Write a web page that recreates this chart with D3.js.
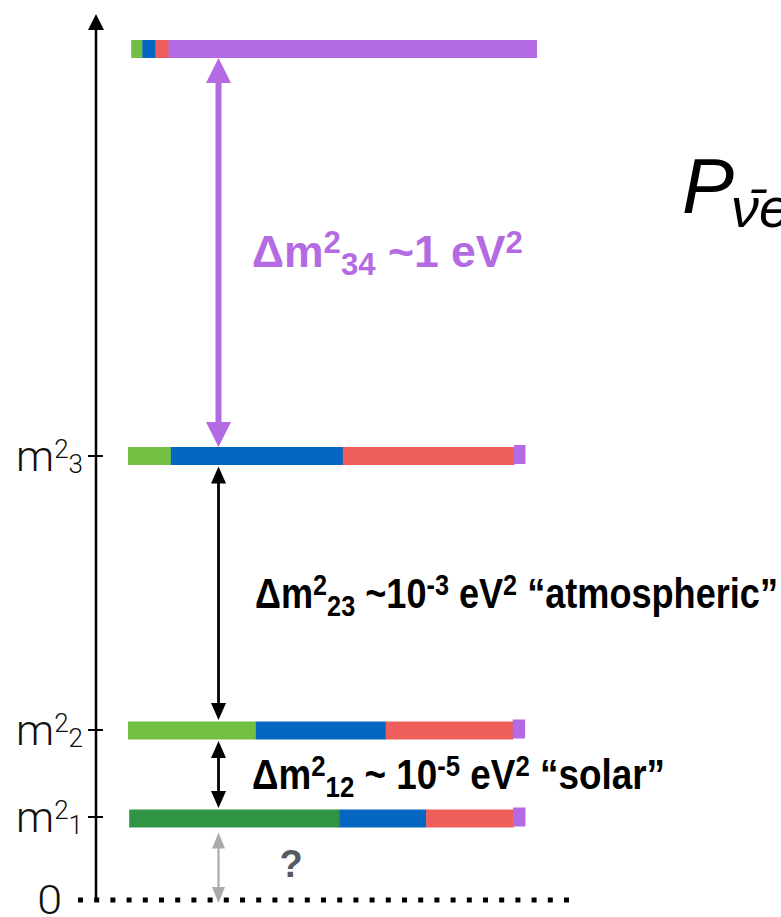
<!DOCTYPE html>
<html>
<head>
<meta charset="utf-8">
<script src="https://cdn.jsdelivr.net/npm/d3@7"></script>
<style>
  html, body { margin: 0; padding: 0; background: #fff; }
  svg { display: block; }
</style>
</head>
<body>
<svg id="chart"></svg>
<script>
// schematic mass-squared positions (arbitrary units, 0 = bottom line)
const levelKeys = ["4", "3", "2", "1"]
const levelValues = [851, 444, 169.5, 81.5]
const tickKeys = ["3", "2", "1", "0"]
const tickValues = [444, 170, 83, 0]

// flavour content of each mass state: e, mu, tau, sterile
const flavors = ["e", "mu", "tau", "s"]
const barStarts = [0.008, 0, 0, 0.003]
const comp4 = [0.028, 0.033, 0.033, 0.927]
const comp3 = [0.108, 0.433, 0.431, 0.028]
const comp2 = [0.322, 0.327, 0.320, 0.030]
const comp1 = [0.529, 0.219, 0.219, 0.030]
const compositions = [comp4, comp3, comp2, comp1]

// splittings: [upper level, lower level, kind]
const splitFrom = ["4", "3", "2", "1"]
const splitTo = ["3", "2", "1", "0"]
const splitKind = ["sterile", "atm", "solar", "unknown"]

const labelSterile = [{t: "Δm"}, {t: "2", sup: true}, {t: "34", sub: true}, {t: " ~1 eV"}, {t: "2", sup: true}]
const labelAtm = [{t: "Δm"}, {t: "2", sup: true}, {t: "23", sub: true}, {t: " ~10"}, {t: "-3", sup: true}, {t: " eV"}, {t: "2", sup: true}, {t: " “atmospheric”"}]
const labelSolar = [{t: "Δm"}, {t: "2", sup: true}, {t: "12", sub: true}, {t: " ~ 10"}, {t: "-5", sup: true}, {t: " eV"}, {t: "2", sup: true}, {t: " “solar”"}]

const width = 781, height = 917
const barH = 18

const colors = {e: "#72bf44", mu: "#0567c2", tau: "#ee5e5a", s: "#b36ae2"}
const darkGreen = "#2f9444"

const svg = d3.select('#chart').attr('width', width).attr('height', height)

const yScale = d3.scaleLinear().domain([0, 886]).range([900, 14])
const xScale = d3.scaleLinear().domain([0, 1]).range([128, 525])
const levelY = k => k === "0" ? yScale(0) : yScale(levelValues[levelKeys.indexOf(k)])

// axis
const axisX = 96
svg.append('line')
  .attr('x1', axisX).attr('x2', axisX)
  .attr('y1', yScale(0)).attr('y2', yScale(886) + 14)
  .attr('stroke', '#000').attr('stroke-width', 2.5)
svg.append('path')
  .attr('d', `M${axisX},${yScale(886)} L${axisX - 8},${yScale(886) + 16} L${axisX + 8},${yScale(886) + 16} Z`)
  .attr('fill', '#000')

// zero line, dotted
svg.append('line')
  .attr('x1', 78).attr('x2', 576)
  .attr('y1', yScale(0)).attr('y2', yScale(0))
  .attr('stroke', '#000').attr('stroke-width', 5)
  .attr('stroke-dasharray', '5 11.2')

// ticks + labels
const ticks = svg.selectAll('g.tick').data(tickKeys).enter().append('g')
  .attr('class', 'tick')
  .attr('transform', (d, i) => `translate(0,${yScale(tickValues[i])})`)

ticks.filter(d => d !== "0").append('line')
  .attr('x1', axisX - 8).attr('x2', axisX + 7)
  .attr('stroke', '#000').attr('stroke-width', 2)

ticks.append('text')
  .attr('x', d => d === "0" ? 0 : 83)
  .attr('y', d => d === "0" ? 0 : 15)
  .attr('transform', d => d === "0" ? 'translate(62,14) scale(1.12,1)' : null)
  .attr('text-anchor', 'end')
  .style('font-family', "Roboto, 'Liberation Sans', Arial, sans-serif")
  .style('font-weight', 300)
  .style('font-size', d => d === "0" ? '40px' : '43px')
  .style('fill', '#111')
  .each(function (d) {
    const t = d3.select(this)
    if (d === "0") { t.text("0"); return }
    t.append('tspan').text('m')
    t.append('tspan').attr('font-size', 26).attr('dy', -13).text('2')
    t.append('tspan').attr('font-size', 26).attr('dy', 15).text(d)
  })

// bars
const rows = svg.selectAll('g.level').data(levelKeys).enter().append('g')
  .attr('class', 'level')
  .attr('transform', d => `translate(0,${levelY(d) - barH / 2})`)

rows.each(function (k, ri) {
  let acc = barStarts[ri]
  const segs = compositions[ri].map((v, fi) => {
    const s = {flavor: flavors[fi], x0: acc, x1: acc + v}
    acc += v
    return s
  })
  d3.select(this).selectAll('rect').data(segs).enter().append('rect')
    .attr('x', s => xScale(s.x0))
    .attr('width', s => xScale(s.x1) - xScale(s.x0) + 0.5)
    .attr('y', s => (s.flavor === "s" && k !== "4") ? -2 : 0)
    .attr('height', s => (s.flavor === "s" && k !== "4") ? barH + 1 : barH)
    .attr('fill', s => (s.flavor === "e" && k === "1") ? darkGreen : colors[s.flavor])
})

// splitting arrows
const arrowStyle = {
  sterile: {color: "#b36ae2", w: 6, hw: 12.5, hl: 25, gap: 0},
  atm: {color: "#000", w: 2.8, hw: 7.5, hl: 17, gap: 1.5},
  solar: {color: "#000", w: 2.8, hw: 7.5, hl: 17, gap: 1.5},
  unknown: {color: "#a9acac", w: 2.2, hw: 6.5, hl: 16, gap: 5}
}
const arrowX = xScale(0.228)

splitKind.forEach((kind, i) => {
  const st = arrowStyle[kind]
  const y1 = levelY(splitFrom[i]) + barH / 2 + st.gap
  let y2 = levelY(splitTo[i]) - barH / 2 - st.gap
  if (splitTo[i] === "0") y2 = yScale(0) + 3
  const g = svg.append('g').attr('class', 'arrow')
  g.append('line')
    .attr('x1', arrowX).attr('x2', arrowX)
    .attr('y1', y1 + st.hl - 1).attr('y2', y2 - st.hl + 1)
    .attr('stroke', st.color).attr('stroke-width', st.w)
  g.append('path')
    .attr('d', `M${arrowX},${y1} L${arrowX - st.hw},${y1 + st.hl} L${arrowX + st.hw},${y1 + st.hl} Z`)
    .attr('fill', st.color)
  g.append('path')
    .attr('d', `M${arrowX},${y2} L${arrowX - st.hw},${y2 - st.hl} L${arrowX + st.hw},${y2 - st.hl} Z`)
    .attr('fill', st.color)
})

// rich text with super/subscripts, squeezed to a target width (condensed look)
function richLabel(parts, {x, y, size, width, color}) {
  const g = svg.append('g')
  const t = g.append('text')
    .style('font-family', "'Liberation Sans Narrow', 'Liberation Sans', Arial, sans-serif")
    .style('font-weight', 'bold')
    .style('font-size', size + 'px')
    .attr('fill', color)
  let cur = 0
  parts.forEach(p => {
    const off = p.sup ? -size * 0.32 : p.sub ? size * 0.18 : 0
    t.append('tspan')
      .attr('dy', off - cur)
      .attr('font-size', (p.sup || p.sub) ? size * 0.7 : size)
      .text(p.t)
    cur = off
  })
  const bb = t.node().getBBox()
  g.attr('transform', `translate(${x - bb.x * width / bb.width},${y}) scale(${width / bb.width},1)`)
  return g
}

richLabel(labelSterile, {x: 252, y: 267, size: 45, width: 271, color: "#b36ae2"})
richLabel(labelAtm, {x: 255, y: 608, size: 42, width: 523, color: "#000"})
richLabel(labelSolar, {x: 252, y: 789, size: 42, width: 413, color: "#000"})

// unknown absolute scale
svg.append('text')
  .attr('x', 291).attr('y', 877)
  .attr('text-anchor', 'middle')
  .style('font-family', "'Liberation Sans Narrow', 'Liberation Sans', Arial, sans-serif")
  .style('font-weight', 'bold')
  .style('font-size', '38px')
  .attr('fill', '#565a61')
  .text('?')

// probability symbol, cut by the right edge as in the slide
const pg = svg.append('text')
  .attr('x', 682).attr('y', 213)
  .style('font-family', "'Liberation Sans', Arial, sans-serif")
  .style('font-style', 'italic')
  .attr('fill', '#000')
pg.append('tspan').style('font-size', '78px').text('P')
pg.append('tspan').style('font-size', '56px').attr('dy', 14).attr('dx', -3).text('ν\u0304e')
</script>
</body>
</html>
